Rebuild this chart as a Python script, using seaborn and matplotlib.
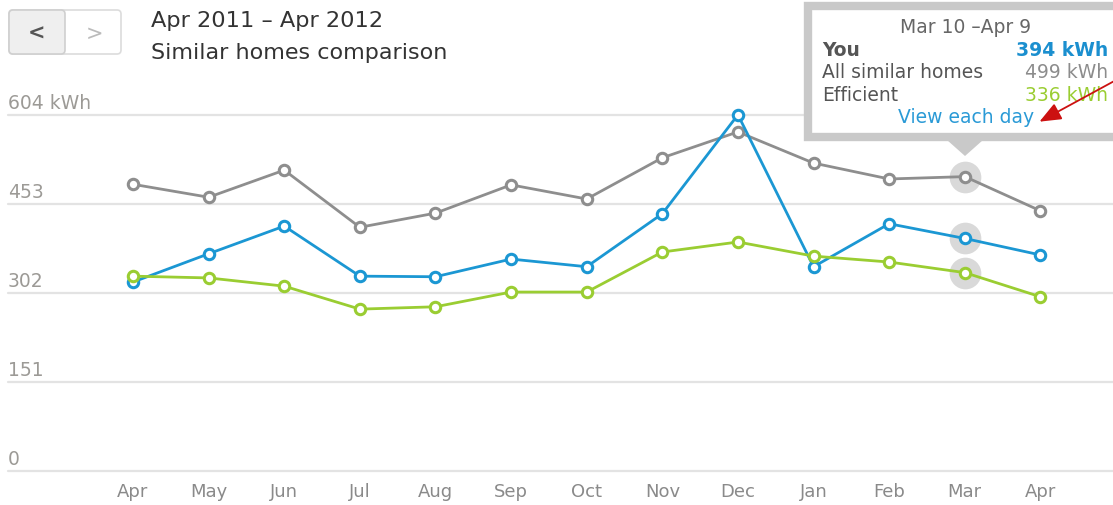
import pandas as pd
import matplotlib
matplotlib.use("Agg")
import matplotlib.pyplot as plt
import matplotlib.patches as mpatches
import seaborn as sns

# chart data (kWh per billing month)
months = ["Apr", "May", "Jun", "Jul", "Aug", "Sep", "Oct",
          "Nov", "Dec", "Jan", "Feb", "Mar", "Apr"]
you = [320, 368, 415, 330, 329, 359, 346, 436, 604, 346, 419, 394, 366]
similar = [486, 464, 510, 413, 437, 485, 461, 531, 575, 522, 495, 499, 441]
efficient = [330, 327, 313, 274, 278, 303, 303, 371, 388, 364, 354, 336, 295]
yticks = [0, 151, 302, 453, 604]
ylabels = ["0", "151", "302", "453", "604 kWh"]
highlight = 11  # Mar, the hovered point

sns.set_theme(style="white")
plt.rcParams["font.family"] = ["DejaVu Sans"]

df = pd.DataFrame({"idx": range(len(months)), "you": you,
                   "similar": similar, "efficient": efficient})

fig = plt.figure(figsize=(11.13, 5.06), dpi=100)
ax = fig.add_axes([8 / 1113, 34.5 / 506, 1 - 8 / 1113, 471.5 / 506])

# gridlines + labels sitting on top of them
for v, lab in zip(yticks, ylabels):
    ax.axhline(v, color="#e3e3e3", lw=1.6, zorder=0, clip_on=False)
    ax.text(0, v + 4, lab, transform=ax.get_yaxis_transform(),
            ha="left", va="bottom", fontsize=13.5, color="#9c9a96")

# halo behind hovered points
for col in ["similar", "you", "efficient"]:
    ax.scatter(df["idx"][highlight], df[col][highlight], s=520,
               color="#d9d9d9", zorder=1, linewidths=0)

series = [("similar", "#8e8e8e"), ("you", "#1b97d3"), ("efficient", "#9acd32")]
for col, c in series:
    sns.lineplot(data=df, x="idx", y=col, ax=ax, color=c, lw=2,
                 marker="o", markersize=7.5, markerfacecolor="white",
                 markeredgecolor=c, markeredgewidth=2.2, zorder=3, clip_on=False)

ax.set_xlim(-1.653, 12.96)
ax.set_ylim(0, 800.6)
ax.set_xticks(range(len(months)))
ax.set_xticklabels(months, fontsize=13, color="#8a8a8a")
ax.tick_params(axis="x", length=0, pad=8)
ax.set_yticks([])
ax.set_xlabel("")
ax.set_ylabel("")
sns.despine(ax=ax, left=True, bottom=True, top=True, right=True)

# overlay in pixel coordinates for the page decorations
ov = fig.add_axes([0, 0, 1, 1])
ov.set_xlim(0, 1113)
ov.set_ylim(506, 0)
ov.axis("off")

# prev / next buttons
ov.add_patch(mpatches.FancyBboxPatch((9, 11), 112, 44, boxstyle="round,pad=0,rounding_size=4",
                                     fc="white", ec="#dcdcdc", lw=1.2))
ov.add_patch(mpatches.FancyBboxPatch((9, 11), 56, 44, boxstyle="round,pad=0,rounding_size=4",
                                     fc="#efefef", ec="#cfcfcf", lw=1.2))
ov.text(36, 34, "<", ha="center", va="center", fontsize=15, color="#555555", fontweight="bold")
ov.text(95, 34, ">", ha="center", va="center", fontsize=15, color="#bbbbbb")

ov.text(151, 21, "Apr 2011 \u2013 Apr 2012", ha="left", va="center", fontsize=16.2, color="#333333")
ov.text(151, 53, "Similar homes comparison", ha="left", va="center", fontsize=16, color="#333333")

# tooltip
ov.add_patch(mpatches.Rectangle((808, 7), 330, 131, fc="white", ec="#c9c9c9", lw=6, zorder=5))
ov.add_patch(mpatches.Polygon([(947, 141), (983, 141), (965, 157)], closed=True,
                              fc="#c9c9c9", ec="none", zorder=5))
ov.text(966, 27, "Mar 10 \u2013Apr 9", ha="center", va="center", fontsize=13.5, color="#666666", zorder=6)
rows = [("You", "394 kWh", "#1b8fcf", "bold"),
        ("All similar homes", "499 kWh", "#8c8c8c", "normal"),
        ("Efficient", "336 kWh", "#9acd32", "normal")]
for i, (lab, val, c, w) in enumerate(rows):
    y = 50 + i * 22.5
    ov.text(822, y, lab, ha="left", va="center", fontsize=13.5,
            color="#555555", fontweight=w, zorder=6)
    ov.text(1108, y, val, ha="right", va="center", fontsize=13.5,
            color=c, fontweight=w, zorder=6)
ov.text(966, 117, "View each day", ha="center", va="center", fontsize=13.5, color="#2a9ad6", zorder=6)

# red annotation arrow
ov.annotate("", xy=(1037, 124), xytext=(1118, 80),
            arrowprops=dict(arrowstyle="-|>,head_length=1.1,head_width=0.45",
                            color="#cc1111", lw=1.3), zorder=7)

fig.savefig("out.png", dpi=100)
